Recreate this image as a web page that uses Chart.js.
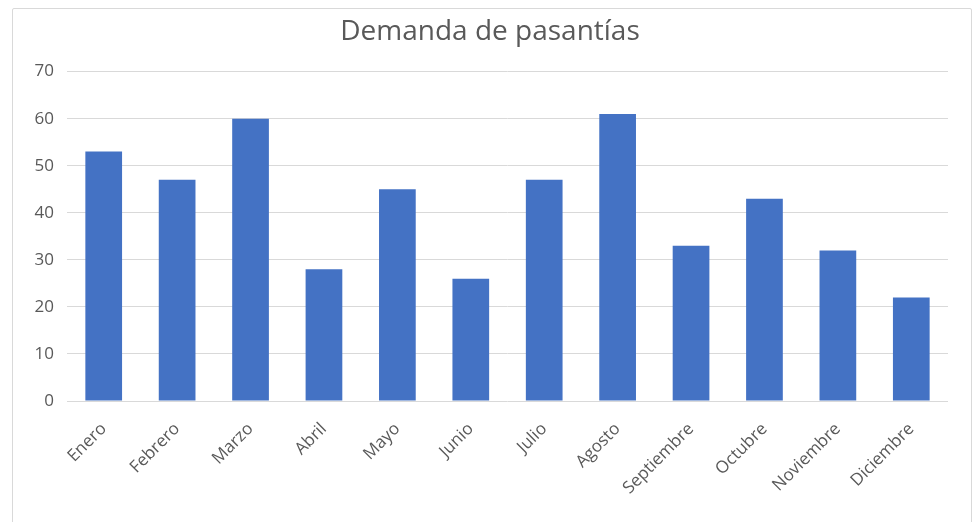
<!DOCTYPE html>
<html>
<head>
<meta charset="utf-8">
<script src="https://cdn.jsdelivr.net/npm/chart.js@4"></script>
<style>
    html, body { margin: 0; padding: 0; background: #fff; }
    #frame {
        position: absolute; left: 12px; top: 8px; width: 958px; height: 520px;
        border: 1px solid #d9d9d9; border-radius: 2px;
    }
    #wrap { position: absolute; left: 0; top: 0; width: 980px; height: 522px; }
</style>
</head>
<body>
<div id="frame"></div>
<div id="wrap"><canvas id="chart"></canvas></div>
<script>
// Data
const months = ['Enero', 'Febrero', 'Marzo', 'Abril', 'Mayo', 'Junio', 'Julio', 'Agosto', 'Septiembre', 'Octubre', 'Noviembre', 'Diciembre'];
const demanda = [53, 47, 60, 28, 45, 26, 47, 61, 33, 43, 32, 22];
const yTicks = [0, 10, 20, 30, 40, 50, 60, 70];

const textColor = '#595959';
const fontFamily = '"Open Sans", "Noto Sans", sans-serif';

new Chart(document.getElementById('chart'), {
    type: 'bar',
    data: {
        labels: months,
        datasets: [{
            label: 'Demanda',
            data: demanda,
            backgroundColor: '#4472C4',
            categoryPercentage: 1,
            barPercentage: 0.5
        }]
    },
    options: {
        responsive: true,
        maintainAspectRatio: false,
        animation: false,
        layout: { padding: 0 },
        plugins: {
            legend: { display: false },
            tooltip: { enabled: false },
            title: {
                display: true,
                text: 'Demanda de pasantías',
                color: textColor,
                font: { family: fontFamily, size: 28, weight: 'normal' },
                padding: { top: 15, bottom: 23 }
            }
        },
        scales: {
            y: {
                min: 0,
                max: 70,
                afterBuildTicks: axis => { axis.ticks = yTicks.map(v => ({ value: v })); },
                afterFit: axis => { axis.width = 67; },
                grid: { color: '#d9d9d9', drawTicks: false },
                border: { display: false },
                ticks: { color: textColor, padding: 13, font: { family: fontFamily, size: 17 } }
            },
            // empty right-hand spacer so the title stays centred on the page
            spacer: {
                type: 'linear',
                position: 'right',
                afterFit: axis => { axis.width = 32; },
                grid: { display: false },
                border: { display: false },
                ticks: { display: false }
            },
            x: {
                afterFit: axis => { axis.height = 121; },
                grid: { display: false },
                border: { display: false },
                ticks: {
                    color: textColor,
                    minRotation: 45,
                    maxRotation: 45,
                    padding: 10,
                    font: { family: fontFamily, size: 17 }
                }
            }
        }
    }
});
</script>
</body>
</html>
